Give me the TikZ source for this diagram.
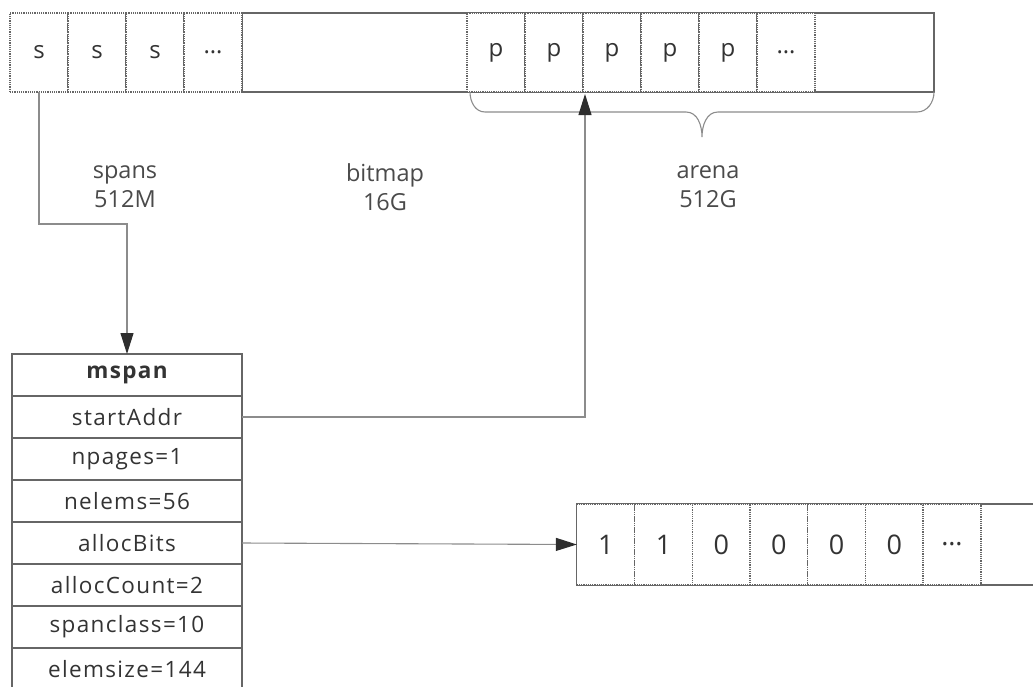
\documentclass[tikz,border=0pt]{standalone}
\usepackage{fontspec}
\setmainfont{Open Sans}
\newfontfamily\tblfont[LetterSpace=6]{Open Sans}
\usetikzlibrary{arrows.meta}
\definecolor{linegray}{HTML}{8C8C8C}
\definecolor{boxgray}{HTML}{666666}
\definecolor{txtgray}{HTML}{333333}
\definecolor{lblgray}{HTML}{4A4A4A}
\definecolor{tipgray}{HTML}{2E2E2E}
\tikzset{
  cell/.style={draw=boxgray, densely dotted, fill=white, minimum width=58, minimum height=79,
    inner sep=0, outer sep=0, text=txtgray, font=\fontsize{24}{28}\selectfont, line width=1.2},
  bcell/.style={cell, minimum height=81, font=\fontsize{27}{32}\selectfont},
  plainbox/.style={draw=boxgray, line width=1.1, inner sep=0, outer sep=0},
  row/.style={draw=boxgray, line width=1.3, minimum width=230, minimum height=42, inner sep=0, outer sep=0,
    text=txtgray, font=\tblfont\fontsize{22.5}{26}\selectfont},
  lbl/.style={align=center, text=lblgray, font=\fontsize{23.5}{29}\selectfont, inner sep=0},
  conn/.style={draw=linegray, line width=1.1},
  tip/.style={-{Triangle[length=21,width=13,color=tipgray,fill=tipgray]}},
}
\begin{document}
\begin{tikzpicture}[x=1pt,y=-1pt]
\useasboundingbox (0,0) rectangle (1033,686);
\clip (0,0) rectangle (1033,686);
% top bar
\node[plainbox, minimum width=692, minimum height=79] (bar) at (588,52.5) {};
\foreach \i/\t in {1/s,2/s,3/s,4/\dots}{
  \node[cell] (s\i) at ({10+58*(\i-0.5)},52.5) {\t};
}
\foreach \i/\t in {1/p,2/p,3/p,4/p,5/p,6/\dots}{
  \node[cell] (p\i) at ({467+58*(\i-0.5)},52.5) {\t};
}
% brace
\draw[conn] (p1.south west) ++(3,0) to[out=-90,in=180] ++(15,20) -- (686,112)
  to[out=0,in=90] (702,137) to[out=90,in=180] (718,112) -- (917,112)
  to[out=0,in=-90] (bar.south east);
% labels
\node[lbl] (lspans) at (125,187) {spans\\512M};
\node[lbl] (lbitmap) at (385,187) {bitmap\\16G};
\node[lbl] (larena) at (708,187) {arena\\512G};
% mspan table
\node[row, font=\tblfont\bfseries\fontsize{22.5}{26}\selectfont] (mspan) at (127,375) {mspan};
\node[row] (startAddr) at (127,417) {startAddr};
\node[row] (npages) at (127,459) {npages=1};
\node[row] (nelems) at (127,501) {nelems=56};
\node[row] (allocBits) at (127,543) {allocBits};
\node[row] (allocCount) at (127,585) {allocCount=2};
\node[row] (spanclass) at (127,627) {spanclass=10};
\node[row] (elemsize) at (127,669) {elemsize=144};
% bitmap bar
\node[plainbox, minimum width=470, minimum height=81] (bits) at (812,544.5) {};
\foreach \i/\t in {1/1,2/1,3/0,4/0,5/0,6/0,7/\dots}{
  \node[bcell] (b\i) at ({577+57.7*(\i-0.5)},544.5) {\t};
}
% connectors
\coordinate (arenaIn) at (585,94);
\draw[conn, tip] (s1.south) -- (39,224) -| (mspan.north);
\draw[conn, tip] (startAddr.east) -| (arenaIn);
\draw[conn, tip] (allocBits.east) -- (b1.west);
\end{tikzpicture}
\end{document}
